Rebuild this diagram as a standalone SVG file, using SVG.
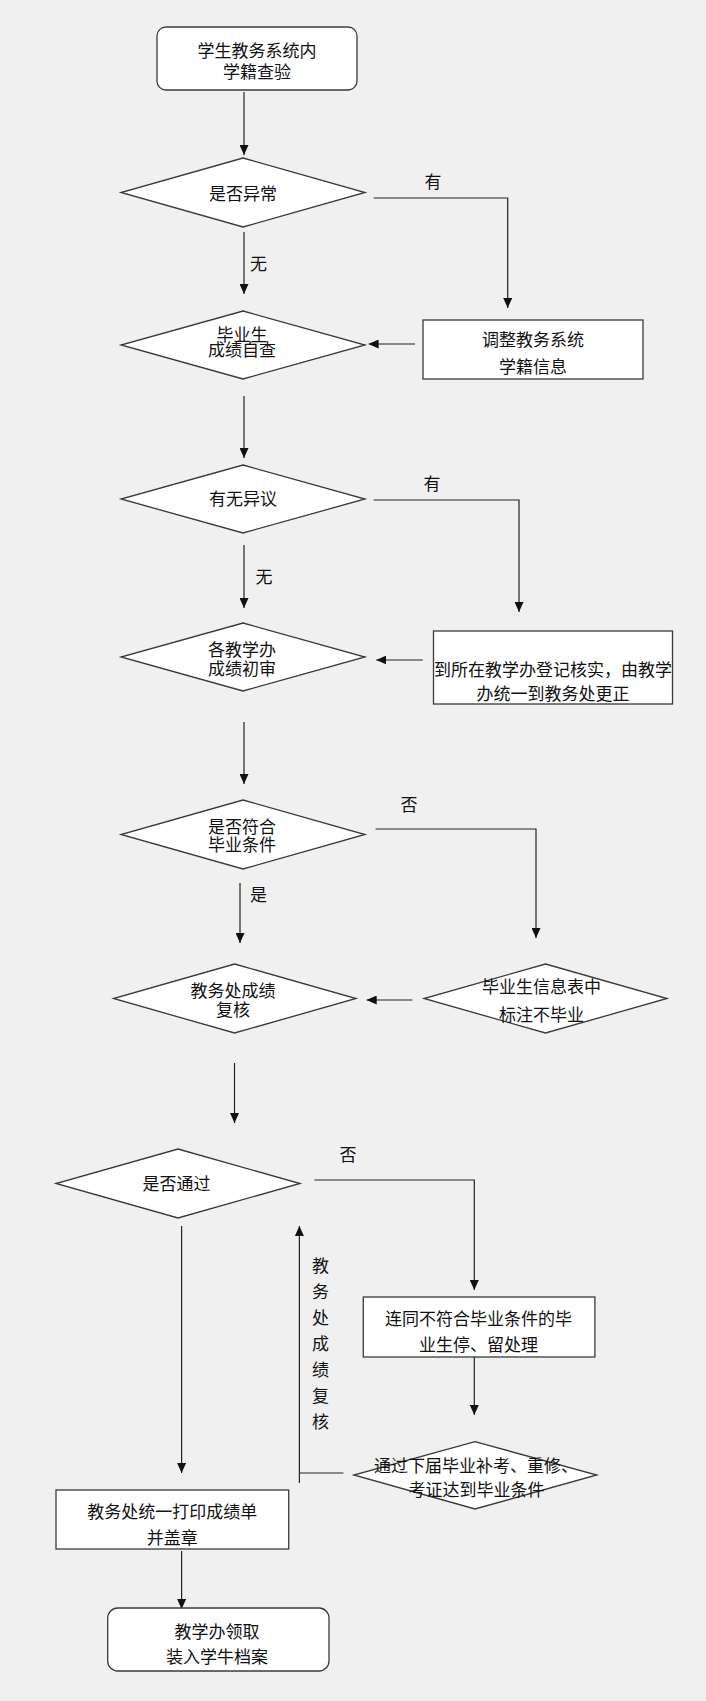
<svg xmlns="http://www.w3.org/2000/svg" width="706" height="1701" viewBox="0 0 706 1701">
<defs>
<style>
.bg{fill:#f0f0f0}
.n{fill:#ffffff;stroke:#3a3a3a;stroke-width:1.3}
.t{font-family:"Noto Sans CJK SC","Liberation Sans",sans-serif;font-size:17px;fill:#111;text-anchor:middle;dominant-baseline:central}
.c{fill:none;stroke:#222;stroke-width:1.2}
</style>
<marker id="ah" markerUnits="userSpaceOnUse" markerWidth="10" markerHeight="9" refX="10" refY="4.5" orient="auto">
<path d="M0,0 L10,4.5 L0,9 z" fill="#111"/>
</marker>
</defs>
<rect class="bg" x="0" y="0" width="706" height="1701"/>

<g id="connectors">
<path class="c" d="M244,92 V155" marker-end="url(#ah)"/>
<path class="c" d="M373.6,198 H507.7 V308" marker-end="url(#ah)"/>
<path class="c" d="M244,232 V294" marker-end="url(#ah)"/>
<path class="c" d="M415,344 H368.6" marker-end="url(#ah)"/>
<path class="c" d="M244,396 V458" marker-end="url(#ah)"/>
<path class="c" d="M373.6,500 H519 V612" marker-end="url(#ah)"/>
<path class="c" d="M244,545 V608" marker-end="url(#ah)"/>
<path class="c" d="M422.7,660 H376.3" marker-end="url(#ah)"/>
<path class="c" d="M244,722 V784" marker-end="url(#ah)"/>
<path class="c" d="M375.6,829 H536 V938" marker-end="url(#ah)"/>
<path class="c" d="M240,883 V943" marker-end="url(#ah)"/>
<path class="c" d="M412.3,1000 H366.7" marker-end="url(#ah)"/>
<path class="c" d="M234.5,1063 V1123" marker-end="url(#ah)"/>
<path class="c" d="M314.4,1180 H474.3 V1290" marker-end="url(#ah)"/>
<path class="c" d="M181.6,1226 V1473" marker-end="url(#ah)"/>
<path class="c" d="M474.3,1357 V1415" marker-end="url(#ah)"/>
<path class="c" d="M343.4,1473 H299.4 M299.4,1483 V1226" marker-end="url(#ah)"/>
<path class="c" d="M181.6,1551 V1609" marker-end="url(#ah)"/>
<text class="t" x="433" y="180">有</text>
<text class="t" x="258.5" y="262">无</text>
<text class="t" x="432" y="482">有</text>
<text class="t" x="264" y="575">无</text>
<text class="t" x="409" y="803">否</text>
<text class="t" x="258.5" y="893">是</text>
<text class="t" x="348" y="1153">否</text>
<text class="t" x="320.5" y="1264">教</text>
<text class="t" x="320.5" y="1290">务</text>
<text class="t" x="320.5" y="1316">处</text>
<text class="t" x="320.5" y="1342">成</text>
<text class="t" x="320.5" y="1368">绩</text>
<text class="t" x="320.5" y="1394">复</text>
<text class="t" x="320.5" y="1420">核</text>
</g>

<g id="start">
<rect class="n" x="157" y="27" width="200" height="63" rx="9"/>
<text class="t" x="257" y="49">学生教务系统内</text>
<text class="t" x="257" y="70">学籍查验</text>
</g>

<g id="d1">
<polygon class="n" points="243,158 365,192.5 243,227 121,192.5"/>
<text class="t" x="243" y="192">是否异常</text>
</g>

<g id="d2">
<polygon class="n" points="243,311 365,345 243,379 121,345"/>
<text class="t" x="242" y="333">毕业生</text>
<text class="t" x="242" y="348">成绩自查</text>
</g>

<g id="box1">
<rect class="n" x="423" y="320" width="220" height="59"/>
<text class="t" x="533" y="338">调整教务系统</text>
<text class="t" x="533" y="365">学籍信息</text>
</g>

<g id="d3">
<polygon class="n" points="243,465 365,499 243,533 121,499"/>
<text class="t" x="243" y="497">有无异议</text>
</g>

<g id="d4">
<polygon class="n" points="243,623 365,657 243,691 121,657"/>
<text class="t" x="242" y="648">各教学办</text>
<text class="t" x="242" y="667">成绩初审</text>
</g>

<g id="box2">
<rect class="n" x="433.5" y="631" width="239" height="73"/>
<text class="t" x="553" y="668">到所在教学办登记核实，由教学</text>
<text class="t" x="553" y="692">办统一到教务处更正</text>
</g>

<g id="d5">
<polygon class="n" points="243,800 365,834.5 243,869 121,834.5"/>
<text class="t" x="242" y="825">是否符合</text>
<text class="t" x="242" y="843">毕业条件</text>
</g>

<g id="d6">
<polygon class="n" points="234.6,964 356,998.5 234.6,1033 113.5,998.5"/>
<text class="t" x="233" y="989">教务处成绩</text>
<text class="t" x="233" y="1008">复核</text>
</g>

<g id="d7">
<polygon class="n" points="545.5,964 667,998.5 545.5,1033 424,998.5"/>
<text class="t" x="541.5" y="985">毕业生信息表中</text>
<text class="t" x="541.5" y="1013">标注不毕业</text>
</g>

<g id="d8">
<polygon class="n" points="178,1149 300,1183.5 178,1218 56,1183.5"/>
<text class="t" x="176.5" y="1182">是否通过</text>
</g>

<g id="box3">
<rect class="n" x="363.3" y="1297" width="231.6" height="60"/>
<text class="t" x="478.5" y="1317">连同不符合毕业条件的毕</text>
<text class="t" x="478.5" y="1343">业生停、留处理</text>
</g>

<g id="d9">
<polygon class="n" points="475,1441.7 596.8,1475 475,1509 353.8,1475"/>
<text class="t" x="476" y="1464">通过下届毕业补考、重修、</text>
<text class="t" x="476.5" y="1488">考证达到毕业条件</text>
</g>

<g id="box4">
<rect class="n" x="56" y="1490" width="232.7" height="59"/>
<text class="t" x="172.3" y="1510">教务处统一打印成绩单</text>
<text class="t" x="172.3" y="1536">并盖章</text>
</g>

<g id="end">
<rect class="n" x="107.7" y="1608" width="221.3" height="63" rx="10"/>
<text class="t" x="217" y="1630">教学办领取</text>
<text class="t" x="217" y="1655">装入学牛档案</text>
</g>
</svg>
